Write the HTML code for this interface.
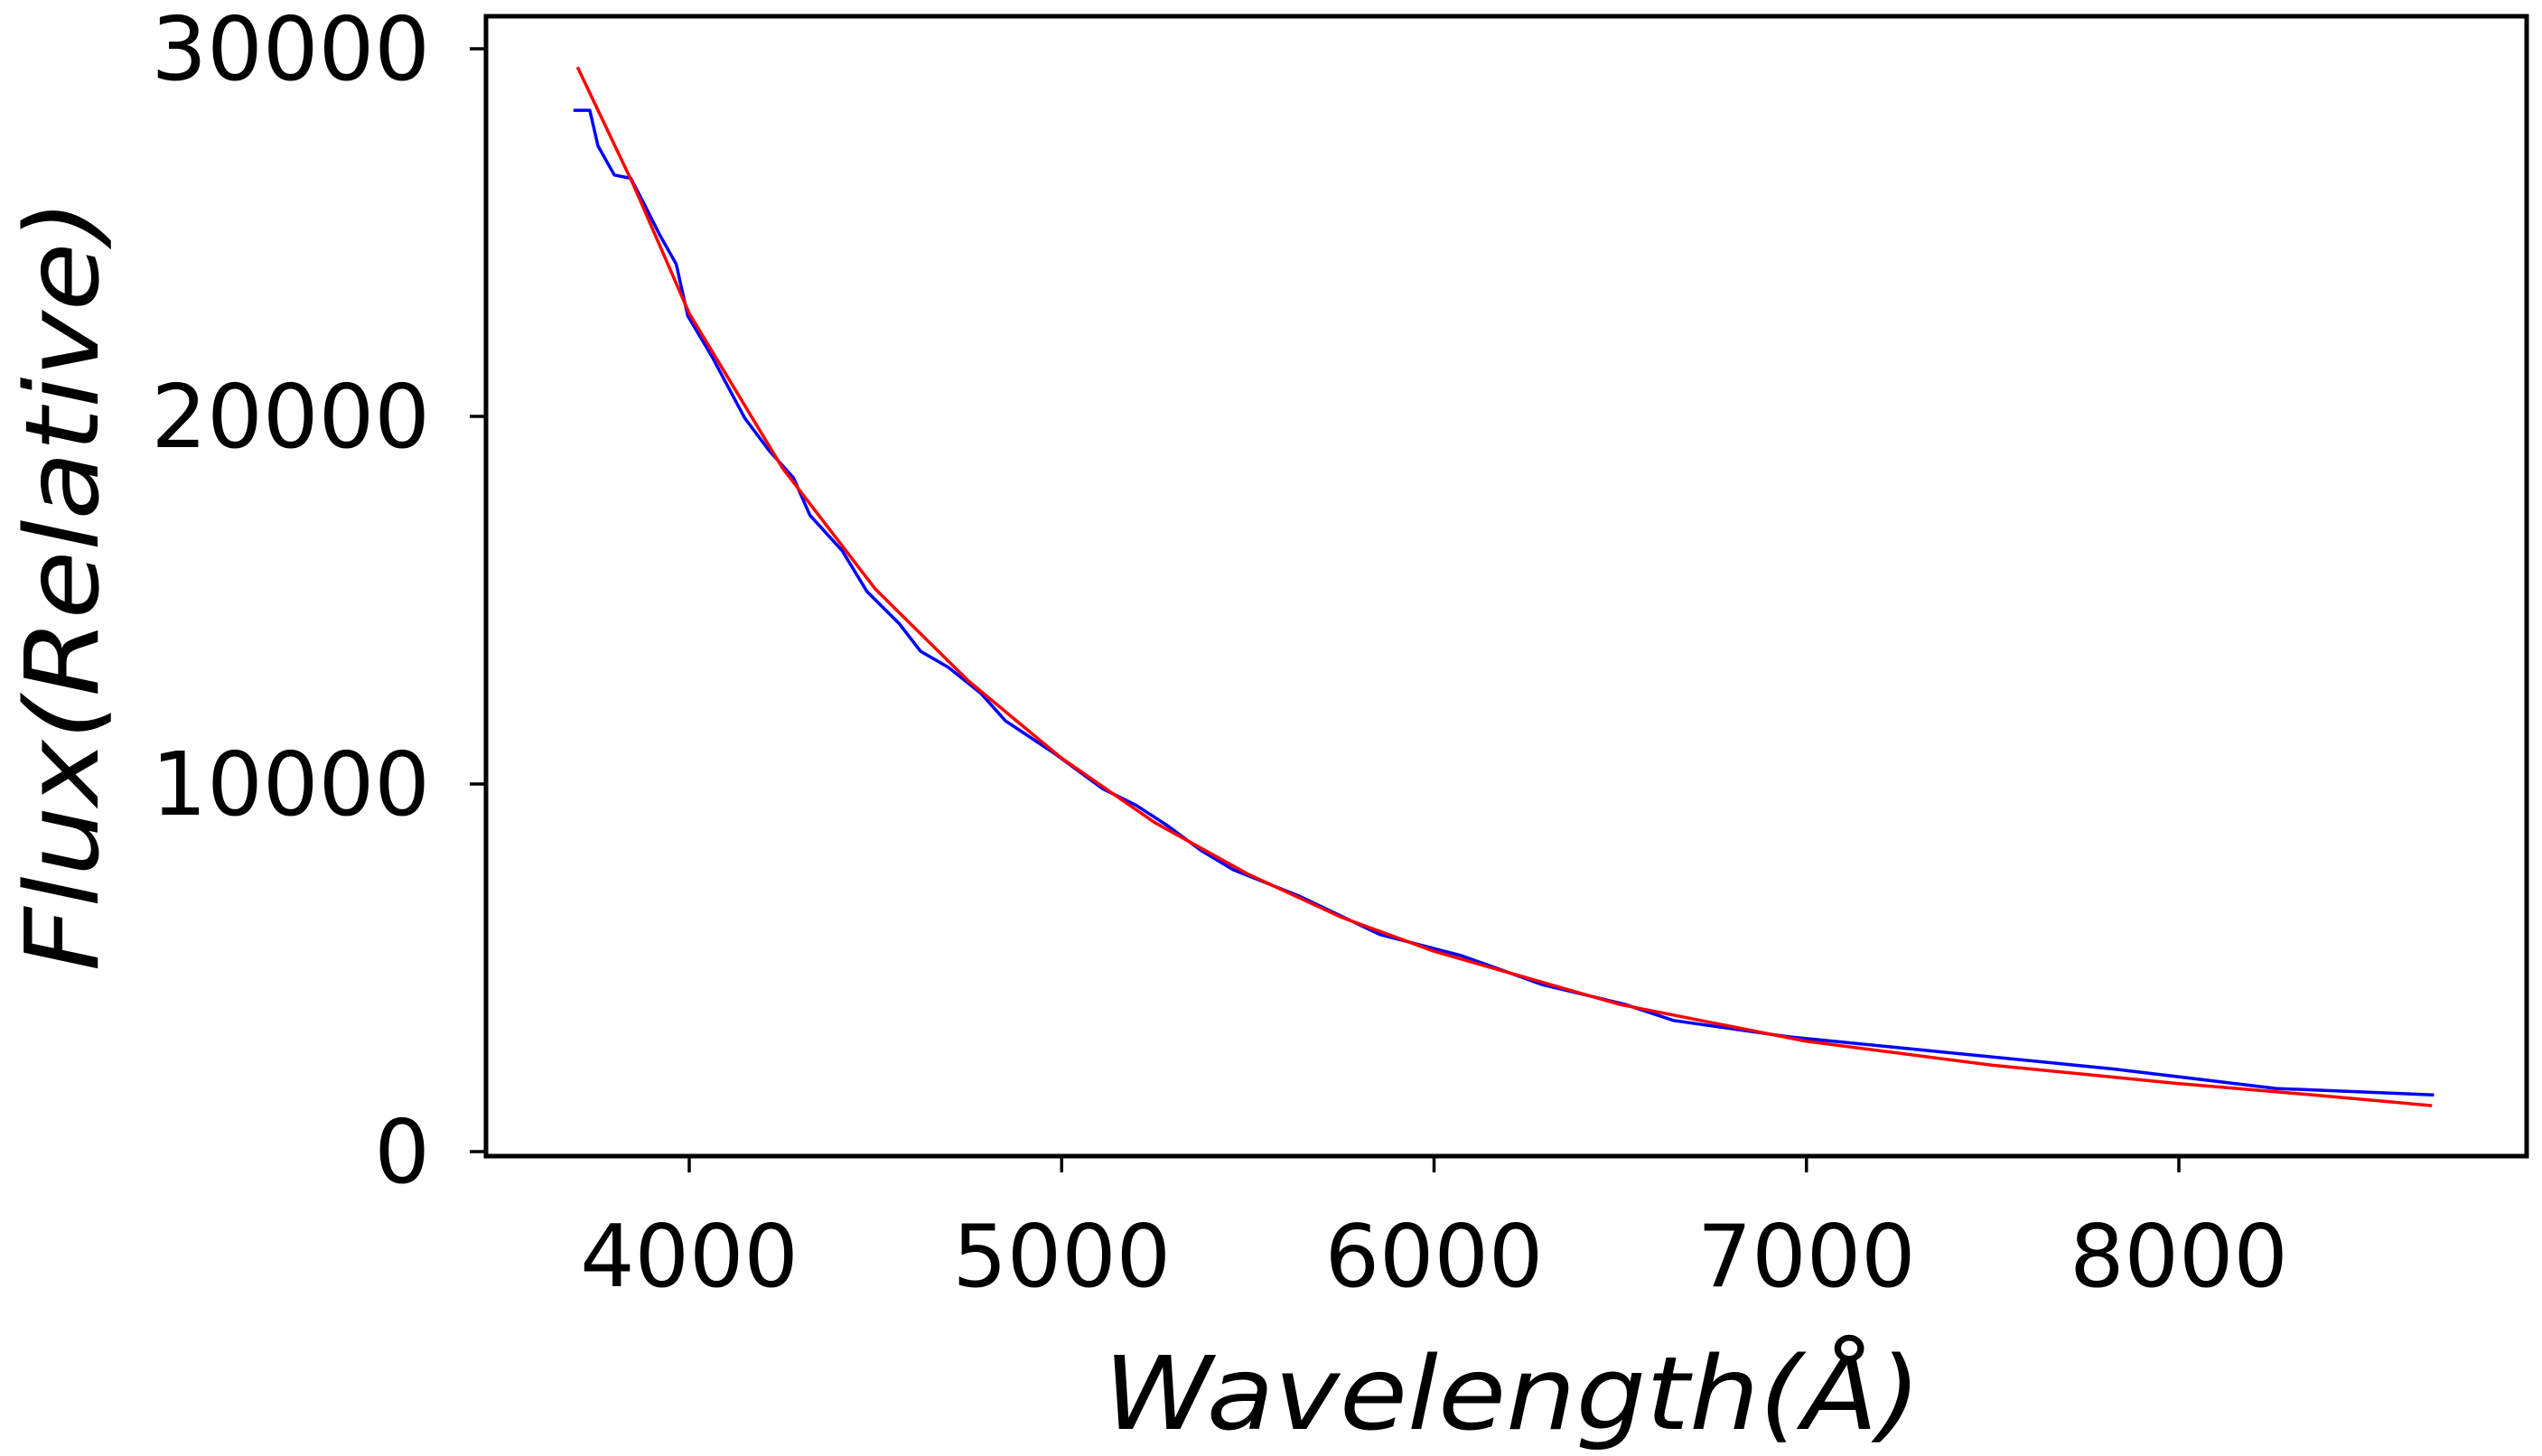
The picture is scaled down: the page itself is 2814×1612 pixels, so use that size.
<!DOCTYPE html>
<html><head><meta charset="utf-8"><style>html,body{margin:0;padding:0;background:#fff}svg{display:block}</style></head>
<body>
<svg id="chart" width="2814" height="1612" xmlns="http://www.w3.org/2000/svg" font-family="'DejaVu Sans','Liberation Sans',sans-serif">
<g id="plot"></g>
</svg>
<script>
const xTicks = [4000, 5000, 6000, 7000, 8000];
const yTicks = [0, 10000, 20000, 30000];
const observedX = [3689,3733,3755,3799,3843,3877,3921,3965,3996,4061,4149,4214,4280,4324,4411,4477,4564,4621,4696,4783,4849,4980,5111,5199,5286,5374,5461,5636,5855,6074,6292,6511,6643,6949,7387,7824,8261,8685];
const observedY = [28326,28326,27357,26564,26476,25815,24934,24141,22731,21630,19956,19075,18326,17313,16344,15242,14361,13612,13172,12467,11718,10837,9868,9427,8855,8194,7665,6960,5903,5330,4537,4009,3568,3128,2687,2247,1718,1542];
const fitX = [3700,3850,4000,4250,4500,4750,5000,5250,5500,5750,6000,6500,7000,7500,8000,8350,8680];
const fitY = [29500,26300,22800,18600,15300,12800,10700,8950,7550,6380,5450,4000,3000,2350,1850,1550,1250];

const L=538,R=2797,T=18,B=1280;
const sx = v => 763 + (v-4000)*0.41225;
const sy = v => 1275 - v*0.0407;
const NS='http://www.w3.org/2000/svg';
const g=document.getElementById('plot');
function mk(t,a){const e=document.createElementNS(NS,t);for(const k in a)e.setAttribute(k,a[k]);g.appendChild(e);return e;}

function line(xs,ys,color,name){
  const p=mk('polyline',{points:xs.map((x,i)=>sx(x).toFixed(1)+','+sy(ys[i]).toFixed(1)).join(' '),fill:'none',stroke:color,'stroke-width':3.5,'stroke-linejoin':'round'});
  
  
}
line(observedX,observedY,'#0000ff','observed-spectrum-line');
line(fitX,fitY,'#ff0000','fit-curve-line');

const frame=mk('rect',{x:L,y:T,width:R-L,height:B-T,fill:'none',stroke:'#000','stroke-width':5});



xTicks.forEach(v=>{
  const t=mk('line',{x1:sx(v),x2:sx(v),y1:B,y2:B+18,stroke:'#000','stroke-width':3.5});
  
  
  const tx=mk('text',{x:sx(v),y:1424,'text-anchor':'middle','font-size':95,fill:'#000'});
  tx.textContent=v;
  
  
});
yTicks.forEach(v=>{
  const t=mk('line',{x1:L-18,x2:L,y1:sy(v),y2:sy(v),stroke:'#000','stroke-width':3.5});
  
  
  const tx=mk('text',{x:476,y:sy(v)+34,'text-anchor':'end','font-size':97,fill:'#000'});
  tx.textContent=v;
  
  
});
const xl=mk('text',{x:1674,y:1582,'text-anchor':'middle','font-size':112,'font-style':'italic',fill:'#000',textLength:905,lengthAdjust:'spacingAndGlyphs'});
xl.textContent='Wavelength(Å)';


const yl=mk('text',{x:0,y:0,'text-anchor':'middle','font-size':112,'font-style':'italic',fill:'#000',textLength:855,lengthAdjust:'spacingAndGlyphs',transform:'translate(108,648) rotate(-90)'});
yl.textContent='Flux(Relative)';


</script>
</body></html>
